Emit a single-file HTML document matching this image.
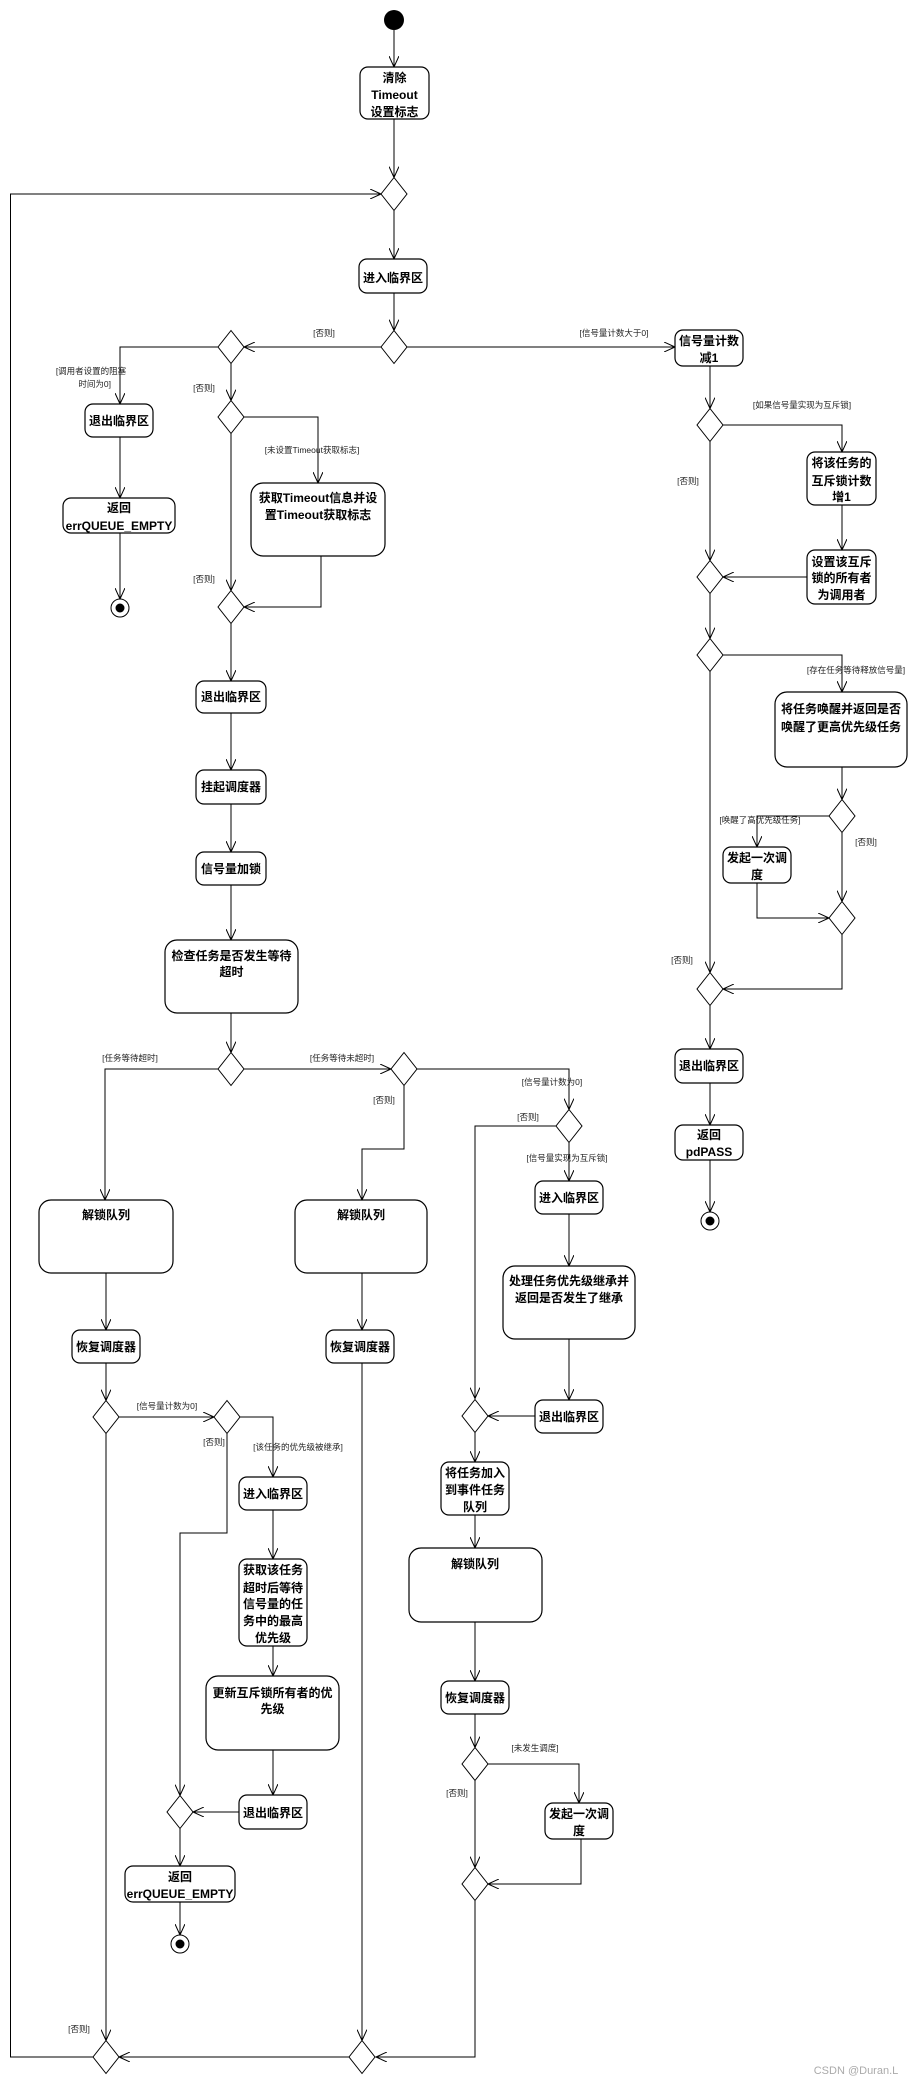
<!DOCTYPE html>
<html><head><meta charset="utf-8"><style>
html,body{margin:0;padding:0;background:#fff;}
svg{display:block;}
.b{fill:#fff;stroke:#000;stroke-width:1.2;}
.t{font-family:"Liberation Sans","Noto Sans CJK SC",sans-serif;font-size:12px;font-weight:bold;text-anchor:middle;fill:#000;}
.l{font-family:"Liberation Sans","Noto Sans CJK SC",sans-serif;font-size:8.5px;text-anchor:middle;fill:#222;}
.e{fill:none;stroke:#000;stroke-width:1;marker-end:url(#a);}
.d{fill:#fff;stroke:#000;stroke-width:1;}
</style></head><body>
<svg width="919" height="2085" viewBox="0 0 919 2085" xmlns="http://www.w3.org/2000/svg">
<defs><marker id="a" markerWidth="12" markerHeight="10" refX="11" refY="5" orient="auto" markerUnits="userSpaceOnUse"><path d="M0,0 L11,5 L0,10" fill="none" stroke="#000" stroke-width="1"/></marker></defs>

<!-- edges -->
<polyline class="e" points="394,30 394,67"/>
<polyline class="e" points="394,119 394,177.5"/>
<polyline class="e" points="394,210.5 394,259"/>
<polyline class="e" points="394,293 394,330.5"/>
<polyline class="e" points="381,347 244,347"/>
<polyline class="e" points="407,347 675,347"/>
<polyline class="e" points="218,347 120,347 120,404"/>
<polyline class="e" points="231,363.5 231,400.5"/>
<polyline class="e" points="120,437 120,498"/>
<polyline class="e" points="120,533 120,599"/>
<polyline class="e" points="244,417 318,417 318,483"/>
<polyline class="e" points="231,433.5 231,590.5"/>
<polyline class="e" points="321,556 321,607 244,607"/>
<polyline class="e" points="231,623.5 231,681"/>
<polyline class="e" points="231,713 231,770"/>
<polyline class="e" points="231,804 231,852"/>
<polyline class="e" points="231,885 231,940"/>
<polyline class="e" points="231,1013 231,1052.5"/>
<polyline class="e" points="218,1069 105,1069 105,1200"/>
<polyline class="e" points="244,1069 391,1069"/>
<polyline class="e" points="404,1085.5 404,1149 362,1149 362,1200"/>
<polyline class="e" points="417,1069 569,1069 569,1109.5"/>
<polyline class="e" points="556,1126 475,1126 475,1398.5"/>
<polyline class="e" points="569,1142.5 569,1181"/>
<polyline class="e" points="569,1214 569,1266"/>
<polyline class="e" points="569,1339 569,1400"/>
<polyline class="e" points="535,1416 488,1416"/>
<polyline class="e" points="475,1432.5 475,1462"/>
<polyline class="e" points="475,1515 475,1548"/>
<polyline class="e" points="475,1622 475,1681"/>
<polyline class="e" points="475,1714 475,1747.5"/>
<polyline class="e" points="488,1764 579,1764 579,1803"/>
<polyline class="e" points="475,1780.5 475,1867.5"/>
<polyline class="e" points="581,1839 581,1884 488,1884"/>
<polyline class="e" points="475,1900.5 475,2057 376,2057"/>
<polyline class="e" points="106,1273 106,1330"/>
<polyline class="e" points="106,1363 106,1400.5"/>
<polyline class="e" points="119,1417 214,1417"/>
<polyline class="e" points="240,1417 273,1417 273,1477"/>
<polyline class="e" points="227,1433.5 227,1533 180,1533 180,1795.5"/>
<polyline class="e" points="273,1510 273,1559"/>
<polyline class="e" points="273,1646 273,1676"/>
<polyline class="e" points="273,1750 273,1795"/>
<polyline class="e" points="239,1812 193,1812"/>
<polyline class="e" points="180,1828.5 180,1866"/>
<polyline class="e" points="180,1902 180,1935"/>
<polyline class="e" points="106,1433.5 106,2040.5"/>
<polyline class="e" points="362,1273 362,1330"/>
<polyline class="e" points="362,1363 362,2040.5"/>
<polyline class="e" points="349,2057 119,2057"/>
<polyline class="e" points="93,2057 10.5,2057 10.5,194 381,194"/>
<polyline class="e" points="710,366 710,408.5"/>
<polyline class="e" points="723,425 842,425 842,452"/>
<polyline class="e" points="842,505 842,550"/>
<polyline class="e" points="807,577 723,577"/>
<polyline class="e" points="710,441.5 710,560.5"/>
<polyline class="e" points="710,593.5 710,638.5"/>
<polyline class="e" points="723,655 842,655 842,692"/>
<polyline class="e" points="842,767 842,799.5"/>
<polyline class="e" points="829,816 757,816 757,847"/>
<polyline class="e" points="842,832.5 842,901.5"/>
<polyline class="e" points="757,883 757,918 829,918"/>
<polyline class="e" points="842,934.5 842,989 723,989"/>
<polyline class="e" points="710,671.5 710,972.5"/>
<polyline class="e" points="710,1005.5 710,1049"/>
<polyline class="e" points="710,1083 710,1125"/>
<polyline class="e" points="710,1160 710,1212"/>

<!-- start / end -->
<circle cx="394" cy="20" r="10" fill="#000"/>
<circle cx="120" cy="608" r="9" fill="#fff" stroke="#000"/><circle cx="120" cy="608" r="4.5" fill="#000"/>
<circle cx="710" cy="1221" r="9" fill="#fff" stroke="#000"/><circle cx="710" cy="1221" r="4.5" fill="#000"/>
<circle cx="180" cy="1944" r="9" fill="#fff" stroke="#000"/><circle cx="180" cy="1944" r="4.5" fill="#000"/>

<!-- diamonds -->
<g class="d">
<polygon points="394,177.5 407,194 394,210.5 381,194"/>
<polygon points="394,330.5 407,347 394,363.5 381,347"/>
<polygon points="231,330.5 244,347 231,363.5 218,347"/>
<polygon points="231,400.5 244,417 231,433.5 218,417"/>
<polygon points="231,590.5 244,607 231,623.5 218,607"/>
<polygon points="231,1052.5 244,1069 231,1085.5 218,1069"/>
<polygon points="404,1052.5 417,1069 404,1085.5 391,1069"/>
<polygon points="569,1109.5 582,1126 569,1142.5 556,1126"/>
<polygon points="475,1399.5 488,1416 475,1432.5 462,1416"/>
<polygon points="475,1747.5 488,1764 475,1780.5 462,1764"/>
<polygon points="475,1867.5 488,1884 475,1900.5 462,1884"/>
<polygon points="106,1400.5 119,1417 106,1433.5 93,1417"/>
<polygon points="227,1400.5 240,1417 227,1433.5 214,1417"/>
<polygon points="180,1795.5 193,1812 180,1828.5 167,1812"/>
<polygon points="106,2040.5 119,2057 106,2073.5 93,2057"/>
<polygon points="362,2040.5 375,2057 362,2073.5 349,2057"/>
<polygon points="710,408.5 723,425 710,441.5 697,425"/>
<polygon points="710,560.5 723,577 710,593.5 697,577"/>
<polygon points="710,638.5 723,655 710,671.5 697,655"/>
<polygon points="842,799.5 855,816 842,832.5 829,816"/>
<polygon points="842,901.5 855,918 842,934.5 829,918"/>
<polygon points="710,972.5 723,989 710,1005.5 697,989"/>
</g>

<!-- boxes -->
<g class="b">
<rect x="360" y="67" width="69" height="52" rx="8"/>
<rect x="359" y="259" width="68" height="34" rx="8"/>
<rect x="675" y="330" width="68" height="36" rx="8"/>
<rect x="85" y="404" width="68" height="33" rx="8"/>
<rect x="63" y="498" width="112" height="35" rx="8"/>
<rect x="251" y="483" width="134" height="73" rx="12"/>
<rect x="807" y="452" width="69" height="53" rx="8"/>
<rect x="807" y="550" width="69" height="54" rx="8"/>
<rect x="196" y="681" width="70" height="32" rx="8"/>
<rect x="775" y="692" width="132" height="75" rx="12"/>
<rect x="196" y="770" width="70" height="34" rx="8"/>
<rect x="196" y="852" width="70" height="33" rx="8"/>
<rect x="165" y="940" width="133" height="73" rx="12"/>
<rect x="723" y="847" width="68" height="36" rx="8"/>
<rect x="675" y="1049" width="68" height="34" rx="8"/>
<rect x="675" y="1125" width="68" height="35" rx="8"/>
<rect x="39" y="1200" width="134" height="73" rx="12"/>
<rect x="295" y="1200" width="132" height="73" rx="12"/>
<rect x="72" y="1330" width="68" height="33" rx="8"/>
<rect x="326" y="1330" width="68" height="33" rx="8"/>
<rect x="535" y="1181" width="68" height="33" rx="8"/>
<rect x="503" y="1266" width="132" height="73" rx="12"/>
<rect x="535" y="1400" width="68" height="33" rx="8"/>
<rect x="239" y="1477" width="68" height="33" rx="8"/>
<rect x="239" y="1559" width="68" height="87" rx="8"/>
<rect x="206" y="1676" width="133" height="74" rx="12"/>
<rect x="239" y="1795" width="68" height="34" rx="8"/>
<rect x="125" y="1866" width="110" height="36" rx="8"/>
<rect x="441" y="1462" width="68" height="53" rx="8"/>
<rect x="409" y="1548" width="133" height="74" rx="12"/>
<rect x="441" y="1681" width="68" height="33" rx="8"/>
<rect x="545" y="1803" width="68" height="36" rx="8"/>
</g>

<!-- box texts -->
<g class="t">
<text x="394.5" y="82">清除</text><text x="394.5" y="99">Timeout</text><text x="394.5" y="116">设置标志</text>
<text x="393" y="282">进入临界区</text>
<text x="709" y="345">信号量计数</text><text x="709" y="362">减1</text>
<text x="119" y="425">退出临界区</text>
<text x="119" y="512">返回</text><text x="119" y="530">errQUEUE_EMPTY</text>
<text x="318" y="502">获取Timeout信息并设</text><text x="318" y="519">置Timeout获取标志</text>
<text x="841.5" y="467">将该任务的</text><text x="841.5" y="485">互斥锁计数</text><text x="841.5" y="501">增1</text>
<text x="841.5" y="566">设置该互斥</text><text x="841.5" y="582">锁的所有者</text><text x="841.5" y="599">为调用者</text>
<text x="231" y="701">退出临界区</text>
<text x="841" y="713">将任务唤醒并返回是否</text><text x="841" y="731">唤醒了更高优先级任务</text>
<text x="231" y="791">挂起调度器</text>
<text x="231" y="873">信号量加锁</text>
<text x="231.5" y="960">检查任务是否发生等待</text><text x="231.5" y="976">超时</text>
<text x="757" y="862">发起一次调</text><text x="757" y="879">度</text>
<text x="709" y="1070">退出临界区</text>
<text x="709" y="1139">返回</text><text x="709" y="1156">pdPASS</text>
<text x="106" y="1219">解锁队列</text>
<text x="361" y="1219">解锁队列</text>
<text x="106" y="1351">恢复调度器</text>
<text x="360" y="1351">恢复调度器</text>
<text x="569" y="1202">进入临界区</text>
<text x="569" y="1285">处理任务优先级继承并</text><text x="569" y="1302">返回是否发生了继承</text>
<text x="569" y="1421">退出临界区</text>
<text x="273" y="1498">进入临界区</text>
<text x="273" y="1574">获取该任务</text><text x="273" y="1592">超时后等待</text><text x="273" y="1608">信号量的任</text><text x="273" y="1625">务中的最高</text><text x="273" y="1642">优先级</text>
<text x="272.5" y="1697">更新互斥锁所有者的优</text><text x="272.5" y="1713">先级</text>
<text x="273" y="1817">退出临界区</text>
<text x="180" y="1881">返回</text><text x="180" y="1898">errQUEUE_EMPTY</text>
<text x="475" y="1477">将任务加入</text><text x="475" y="1494">到事件任务</text><text x="475" y="1511">队列</text>
<text x="475" y="1568">解锁队列</text>
<text x="475" y="1702">恢复调度器</text>
<text x="579" y="1818">发起一次调</text><text x="579" y="1835">度</text>
</g>

<!-- guard labels -->
<g class="l">
<text x="324" y="336">[否则]</text>
<text x="614" y="336">[信号量计数大于0]</text>
<text x="91" y="374">[调用者设置的阻塞</text><text x="111" y="387" text-anchor="end">时间为0]</text>
<text x="204" y="391">[否则]</text>
<text x="312" y="453">[未设置Timeout获取标志]</text>
<text x="204" y="582">[否则]</text>
<text x="802" y="408">[如果信号量实现为互斥锁]</text>
<text x="688" y="484">[否则]</text>
<text x="856" y="673">[存在任务等待释放信号量]</text>
<text x="760" y="823">[唤醒了高优先级任务]</text>
<text x="866" y="845">[否则]</text>
<text x="682" y="963">[否则]</text>
<text x="130" y="1061">[任务等待超时]</text>
<text x="342" y="1061">[任务等待未超时]</text>
<text x="384" y="1103">[否则]</text>
<text x="552" y="1085">[信号量计数为0]</text>
<text x="528" y="1120">[否则]</text>
<text x="567" y="1161">[信号量实现为互斥锁]</text>
<text x="167" y="1409">[信号量计数为0]</text>
<text x="214" y="1445">[否则]</text>
<text x="298" y="1450">[该任务的优先级被继承]</text>
<text x="79" y="2032">[否则]</text>
<text x="535" y="1751">[未发生调度]</text>
<text x="457" y="1796">[否则]</text>
</g>
<text x="856" y="2074" font-family="Liberation Sans, sans-serif" font-size="11" fill="#aaa" text-anchor="middle">CSDN @Duran.L</text>
</svg>
</body></html>
